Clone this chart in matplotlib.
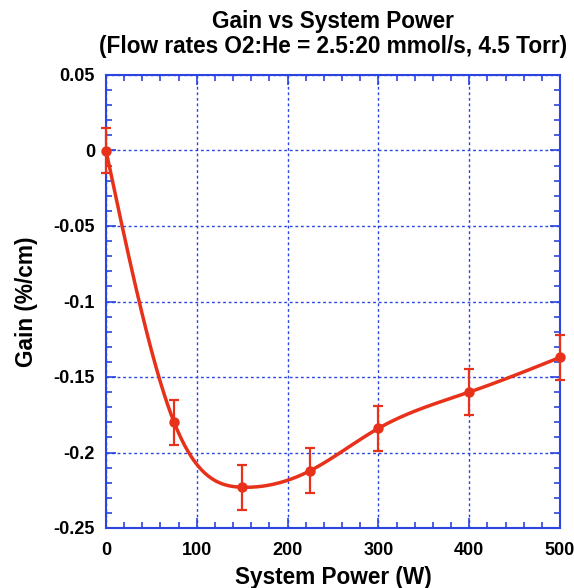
import matplotlib
matplotlib.use("Agg")
import matplotlib.pyplot as plt
from matplotlib.ticker import MultipleLocator
import numpy as np

plt.rcParams['font.family'] = ['Liberation Sans', 'DejaVu Sans']

# Data
power = [0, 75, 150, 225, 300, 400, 500]
gain = [0.0, -0.180, -0.223, -0.212, -0.184, -0.160, -0.137]
gain_err = [0.015, 0.015, 0.015, 0.015, 0.015, 0.015, 0.015]

red = '#e8311a'
blue = '#2a45e0'


def natural_spline(x, y, xs):
    # plain natural cubic spline, no scipy needed
    x = np.asarray(x, float)
    y = np.asarray(y, float)
    n = len(x)
    h = np.diff(x)
    A = np.zeros((n, n))
    b = np.zeros(n)
    A[0, 0] = 1
    A[-1, -1] = 1
    for i in range(1, n - 1):
        A[i, i - 1] = h[i - 1]
        A[i, i] = 2 * (h[i - 1] + h[i])
        A[i, i + 1] = h[i]
        b[i] = 3 * ((y[i + 1] - y[i]) / h[i] - (y[i] - y[i - 1]) / h[i - 1])
    c = np.linalg.solve(A, b)
    out = np.empty_like(xs)
    for j, xv in enumerate(xs):
        i = min(max(np.searchsorted(x, xv) - 1, 0), n - 2)
        dx = xv - x[i]
        bb = (y[i + 1] - y[i]) / h[i] - h[i] * (2 * c[i] + c[i + 1]) / 3
        d = (c[i + 1] - c[i]) / (3 * h[i])
        out[j] = y[i] + bb * dx + c[i] * dx ** 2 + d * dx ** 3
    return out


fig = plt.figure(figsize=(5.74, 5.88), dpi=100)
ax = fig.add_axes([106 / 574, 1 - 528 / 588, 454 / 574, 453 / 588])

xx = np.linspace(0, 500, 400)
ax.plot(xx, natural_spline(power, gain, xx), color=red, lw=2.5, zorder=3)
ax.errorbar(power, gain, yerr=gain_err, fmt='o', color=red, ms=6.5,
            elinewidth=1.6, capsize=3.5, capthick=1.6, zorder=4, clip_on=False)

ax.set_xlim(0, 500)
ax.set_ylim(-0.25, 0.05)
ax.xaxis.set_major_locator(MultipleLocator(100))
ax.xaxis.set_minor_locator(MultipleLocator(20))
ax.yaxis.set_major_locator(MultipleLocator(0.05))
ax.yaxis.set_minor_locator(MultipleLocator(0.01))
ax.yaxis.set_major_formatter(plt.FuncFormatter(lambda v, p: '%g' % round(v, 3)))

ax.grid(True, which='major', color=blue, ls=(0, (2, 2)), lw=1.0)
ax.tick_params(which='both', direction='in', top=True, right=True,
               color=blue, labelsize=13)
ax.tick_params(which='major', length=7, width=1.2)
ax.tick_params(which='minor', length=4, width=1.2)
ax.tick_params(axis='x', which='major', pad=10)
ax.tick_params(axis='y', which='major', pad=8)
for lab in ax.get_xticklabels() + ax.get_yticklabels():
    lab.set_fontweight('bold')
for s in ax.spines.values():
    s.set_color(blue)
    s.set_linewidth(1.5)

ax.set_xlabel('System Power (W)', fontsize=16.3, fontweight='bold', labelpad=5)
ax.set_ylabel('Gain (%/cm)', fontsize=16.3, fontweight='bold', labelpad=11)
ax.set_title('Gain vs System Power\n(Flow rates O2:He = 2.5:20 mmol/s, 4.5 Torr)',
             fontsize=16.3, fontweight='bold', pad=16, linespacing=1.1)

fig.savefig('out.png', dpi=100)
